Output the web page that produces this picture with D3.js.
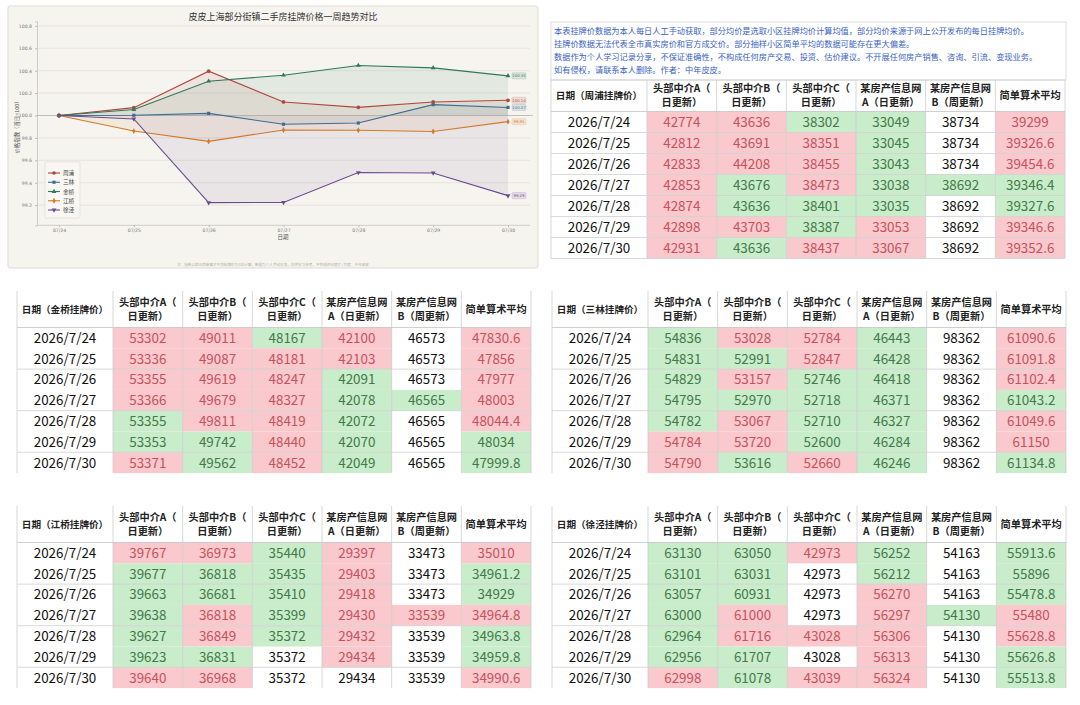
<!DOCTYPE html>
<html>
<head>
<meta charset="utf-8">
<script src="https://cdn.jsdelivr.net/npm/d3@7"></script>
<style>
  body { margin: 0; background: #fff; }
  text { font-family: "Noto Sans CJK SC", "Noto Sans", sans-serif; }
</style>
</head>
<body>
<div id="page"></div>
<script>
// ---- data ----
var dates = ["2026/7/24", "2026/7/25", "2026/7/26", "2026/7/27", "2026/7/28", "2026/7/29", "2026/7/30"];
var tickLabels = ["07/24", "07/25", "07/26", "07/27", "07/28", "07/29", "07/30"];
var areaNames = ["周浦", "三林", "金桥", "江桥", "徐泾"];
var colHeaders = [["头部中介A（", "日更新）"], ["头部中介B（", "日更新）"], ["头部中介C（", "日更新）"],
                  ["某房产信息网", "A（日更新）"], ["某房产信息网", "B（周更新）"], ["简单算术平均"]];

// index (first day = 100)
var idxZhoupu = [100, 100.070, 100.396, 100.121, 100.073, 100.121, 100.136];
var idxSanlin = [100, 100.002, 100.019, 99.922, 99.933, 100.097, 100.072];
var idxJinqiao = [100, 100.053, 100.306, 100.360, 100.447, 100.425, 100.354];
var idxJiangqiao = [100, 99.861, 99.769, 99.871, 99.868, 99.857, 99.945];
var idxXujing = [100, 99.969, 99.222, 99.224, 99.491, 99.487, 99.285];
var endLabels = ["100.14", "100.07", "100.35", "99.95", "99.29"];

// 周浦
var zpA = [42774, 42812, 42833, 42853, 42874, 42898, 42931];
var zpB = [43636, 43691, 44208, 43676, 43636, 43703, 43636];
var zpC = [38302, 38351, 38455, 38473, 38401, 38387, 38437];
var zpNetA = [33049, 33045, 33043, 33038, 33035, 33053, 33067];
var zpNetB = [38734, 38734, 38734, 38692, 38692, 38692, 38692];
var zpAvg = ["39299", "39326.6", "39454.6", "39346.4", "39327.6", "39346.6", "39352.6"];
var zpMarks = ["rrgg-r", "rrrg-r", "rrrg-r", "rgrggg", "rggg-g", "rrgr-r", "rgrr-r"];

// 金桥
var jqA = [53302, 53336, 53355, 53366, 53355, 53353, 53371];
var jqB = [49011, 49087, 49619, 49679, 49811, 49742, 49562];
var jqC = [48167, 48181, 48247, 48327, 48419, 48440, 48452];
var jqNetA = [42100, 42103, 42091, 42078, 42072, 42070, 42049];
var jqNetB = [46573, 46573, 46573, 46565, 46565, 46565, 46565];
var jqAvg = ["47830.6", "47856", "47977", "48003", "48044.4", "48034", "47999.8"];
var jqMarks = ["rrgr-r", "rrrr-r", "rrrg-r", "rrrggr", "grrg-r", "ggrg-g", "rgrg-g"];

// 三林
var slA = [54836, 54831, 54829, 54795, 54782, 54784, 54790];
var slB = [53028, 52991, 53157, 52970, 53067, 53720, 53616];
var slC = [52784, 52847, 52746, 52718, 52710, 52600, 52660];
var slNetA = [46443, 46428, 46418, 46371, 46327, 46284, 46246];
var slNetB = [98362, 98362, 98362, 98362, 98362, 98362, 98362];
var slAvg = ["61090.6", "61091.8", "61102.4", "61043.2", "61049.6", "61150", "61134.8"];
var slMarks = ["grrg-r", "ggrg-r", "grgg-r", "gggg-g", "grgg-r", "rrgg-r", "rgrg-g"];

// 江桥
var jgA = [39767, 39677, 39663, 39638, 39627, 39623, 39640];
var jgB = [36973, 36818, 36681, 36818, 36849, 36831, 36968];
var jgC = [35440, 35435, 35410, 35399, 35372, 35372, 35372];
var jgNetA = [29397, 29403, 29418, 29430, 29432, 29434, 29434];
var jgNetB = [33473, 33473, 33473, 33539, 33539, 33539, 33539];
var jgAvg = ["35010", "34961.2", "34929", "34964.8", "34963.8", "34959.8", "34990.6"];
var jgMarks = ["rrgr-r", "gggr-g", "gggr-g", "grgrrr", "grgr-g", "gg-r-g", "rr---r"];

// 徐泾
var xjA = [63130, 63101, 63057, 63000, 62964, 62956, 62998];
var xjB = [63050, 63031, 60931, 61000, 61716, 61707, 61078];
var xjC = [42973, 42973, 42973, 42973, 43028, 43028, 43039];
var xjNetA = [56252, 56212, 56270, 56297, 56306, 56313, 56324];
var xjNetB = [54163, 54163, 54163, 54130, 54130, 54130, 54130];
var xjAvg = ["55913.6", "55896", "55478.8", "55480", "55628.8", "55626.8", "55513.8"];
var xjMarks = ["ggrg-g", "gg-g-g", "gg-r-g", "gr-rgr", "grrr-r", "gg-r-g", "rgrr-g"];

var noteLines = [
  "本表挂牌价数据为本人每日人工手动获取，部分均价是选取小区挂牌均价计算均值，部分均价来源于网上公开发布的每日挂牌均价。",
  "挂牌价数据无法代表全市真实房价和官方成交价。部分抽样小区简单平均的数据可能存在更大偏差。",
  "数据作为个人学习记录分享，不保证准确性，不构成任何房产交易、投资、估价建议。不开展任何房产销售、咨询、引流、变现业务。",
  "如有侵权，请联系本人删除。作者：中年皮皮。"
];

var seriesColors = ["#b2463d", "#3e6c92", "#2f7a57", "#d27a2b", "#6b4b91"];
var markColors = { r: { bg: "#f9c9cd", fg: "#c8525c" }, g: { bg: "#c9ecca", fg: "#427a49" } };

var svg = d3.select("#page").append("svg")
    .attr("width", 1080)
    .attr("height", 705);

// ---- line chart ----
var chart = svg.append("g");

chart.append("rect")
    .attr("x", 8).attr("y", 6)
    .attr("width", 530).attr("height", 262)
    .attr("rx", 2)
    .attr("fill", "#f6f4ef")
    .attr("stroke", "#dedbd3");

var x = d3.scalePoint().domain(tickLabels).range([59, 508]);
var y = d3.scaleLinear().domain([99.02, 100.84]).range([225.3, 21.4]);

var yTicks = d3.range(99.2, 100.81, 0.2);

chart.append("g")
    .selectAll("line")
    .data(yTicks)
    .join("line")
    .attr("x1", 37).attr("x2", 530)
    .attr("y1", function (d) { return y(d); })
    .attr("y2", function (d) { return y(d); })
    .attr("stroke", "#e3e0d9")
    .attr("stroke-width", 0.8);

// y axis
var yAxis = chart.append("g")
    .attr("transform", "translate(37,0)")
    .call(d3.axisLeft(y).tickValues(yTicks).tickFormat(d3.format(".1f")).tickSize(2));
yAxis.select(".domain").attr("stroke", "#cfccc4");
yAxis.selectAll(".tick line").attr("stroke", "#bbb");
yAxis.selectAll("text").attr("font-size", 4.6).attr("fill", "#777")
    .style("font-family", "'DejaVu Sans', sans-serif");

// x axis
var xAxis = chart.append("g")
    .attr("transform", "translate(0,225.3)")
    .call(d3.axisBottom(x).tickSize(2).tickSizeOuter(0));
xAxis.select(".domain").attr("d", "M37,0H530").attr("stroke", "#cfccc4");
xAxis.selectAll(".tick line").attr("stroke", "#bbb");
xAxis.selectAll("text").attr("font-size", 4.6).attr("fill", "#777").attr("dy", "0.4em")
    .style("font-family", "'DejaVu Sans', sans-serif");

chart.append("text")
    .attr("x", 283).attr("y", 239)
    .attr("text-anchor", "middle")
    .attr("font-size", 5.5).attr("fill", "#555")
    .text("日期");

chart.append("text")
    .attr("transform", "translate(19,126) rotate(-90)")
    .attr("text-anchor", "middle")
    .attr("font-size", 5.4).attr("fill", "#555")
    .text("价格指数（首日=100）");

chart.append("text")
    .attr("x", 283).attr("y", 20)
    .attr("text-anchor", "middle")
    .attr("font-size", 9).attr("fill", "#333")
    .text("皮皮上海部分街镇二手房挂牌价格一周趋势对比");

chart.append("text")
    .attr("x", 273).attr("y", 266)
    .attr("text-anchor", "middle")
    .attr("font-size", 3.6).attr("fill", "#b3b0a8")
    .text("注：指数以首日简单算术平均挂牌价为100计算，数据为个人手动记录，仅供学习参考，不构成任何建议 | 作者：中年皮皮");

var indexSeries = [idxZhoupu, idxSanlin, idxJinqiao, idxJiangqiao, idxXujing];
var symbols = [d3.symbolCircle, d3.symbolSquare, d3.symbolTriangle, d3.symbolDiamond, d3.symbolTriangle];

var area = d3.area()
    .x(function (d, i) { return x(tickLabels[i]); })
    .y0(y(100))
    .y1(function (d) { return y(d); });

var line = d3.line()
    .x(function (d, i) { return x(tickLabels[i]); })
    .y(function (d) { return y(d); });

chart.append("g")
    .selectAll("path")
    .data(indexSeries)
    .join("path")
    .attr("d", area)
    .attr("fill", function (d, i) { return seriesColors[i]; })
    .attr("fill-opacity", 0.09);

// baseline 100
chart.append("line")
    .attr("x1", 37).attr("x2", 533)
    .attr("y1", y(100)).attr("y2", y(100))
    .attr("stroke", "#9a978f")
    .attr("stroke-width", 0.7)
    .attr("stroke-opacity", 0.7);

indexSeries.forEach(function (vals, s) {
    var g = chart.append("g");
    g.append("path")
        .attr("d", line(vals))
        .attr("fill", "none")
        .attr("stroke", seriesColors[s])
        .attr("stroke-width", 1.1);
    g.selectAll(".pt")
        .data(vals)
        .join("path")
        .attr("class", "pt")
        .attr("transform", function (d, i) {
            return "translate(" + x(tickLabels[i]) + "," + y(d) + ")" + (s === 4 ? " rotate(180)" : "");
        })
        .attr("d", d3.symbol().type(symbols[s]).size(s === 0 ? 11 : 10))
        .attr("fill", seriesColors[s]);

    // end label
    var last = vals[vals.length - 1];
    var lx = x(tickLabels[6]) + 4, ly = y(last);
    g.append("rect")
        .attr("x", lx).attr("y", ly - 3)
        .attr("width", 14).attr("height", 6)
        .attr("rx", 1)
        .attr("fill", seriesColors[s]).attr("fill-opacity", 0.12)
        .attr("stroke", seriesColors[s]).attr("stroke-opacity", 0.45)
        .attr("stroke-width", 0.4);
    g.append("text")
        .attr("x", lx + 7).attr("y", ly + 1.4)
        .attr("text-anchor", "middle")
        .attr("font-size", 3.8)
        .attr("fill", seriesColors[s])
        .style("font-family", "'DejaVu Sans', sans-serif")
        .text(endLabels[s]);
});

// legend
var legend = chart.append("g");
legend.append("rect")
    .attr("x", 45).attr("y", 162)
    .attr("width", 35).attr("height", 56)
    .attr("rx", 1.5)
    .attr("fill", "#f8f7f3")
    .attr("stroke", "#dcd9d2")
    .attr("stroke-width", 0.6);
var legendY = d3.scalePoint().domain(areaNames).range([173, 210]);
areaNames.forEach(function (name, s) {
    var ly = legendY(name);
    legend.append("line")
        .attr("x1", 48).attr("x2", 60)
        .attr("y1", ly).attr("y2", ly)
        .attr("stroke", seriesColors[s]).attr("stroke-width", 1.1);
    legend.append("path")
        .attr("transform", "translate(54," + ly + ")" + (s === 4 ? " rotate(180)" : ""))
        .attr("d", d3.symbol().type(symbols[s]).size(10))
        .attr("fill", seriesColors[s]);
    legend.append("text")
        .attr("x", 63).attr("y", ly + 2)
        .attr("font-size", 5.6).attr("fill", "#444")
        .text(name);
});

// ---- note box ----
var note = svg.append("g");
note.append("rect")
    .attr("x", 551).attr("y", 22)
    .attr("width", 515).attr("height", 58)
    .attr("fill", "#fff")
    .attr("stroke", "#d4d4d4")
    .attr("stroke-width", 0.8);
note.selectAll("text")
    .data(noteLines)
    .join("text")
    .attr("x", 554)
    .attr("y", function (d, i) { return 34 + i * 13; })
    .attr("font-size", 8.2)
    .attr("fill", "#3a61c4")
    .text(function (d) { return d; });

// ---- tables ----
function drawTable(cfg) {
    var g = svg.append("g");
    var dateW = 96, width = 514;
    var rowsTop = cfg.y + cfg.headerH;
    var cols = d3.scaleBand().domain(d3.range(6)).range([cfg.x + dateW, cfg.x + width]);
    var rows = d3.scaleBand().domain(dates).range([rowsTop, rowsTop + cfg.rowH * dates.length]);
    var bottom = rows.range()[1];
    var values = [cfg.a, cfg.b, cfg.c, cfg.netA, cfg.netB, cfg.avg];

    // cell backgrounds
    dates.forEach(function (d, r) {
        for (var c = 0; c < 6; c++) {
            var m = cfg.marks[r][c];
            if (markColors[m]) {
                g.append("rect")
                    .attr("x", cols(c)).attr("y", rows(d))
                    .attr("width", cols.bandwidth()).attr("height", rows.bandwidth())
                    .attr("fill", markColors[m].bg);
            }
        }
    });

    // grid lines
    var vx = [cfg.x, cfg.x + dateW].concat(d3.range(1, 7).map(function (c) { return c < 6 ? cols(c) : cfg.x + width; }));
    g.selectAll(".vl")
        .data(vx)
        .join("line")
        .attr("x1", function (d) { return d; }).attr("x2", function (d) { return d; })
        .attr("y1", cfg.y).attr("y2", bottom)
        .attr("stroke", "#cdcdcd").attr("stroke-width", 0.8);

    var hRows = cfg.fullGrid ? d3.range(0, 8) : [0, 2, 4, 6];
    g.selectAll(".hl")
        .data(hRows)
        .join("line")
        .attr("x1", cfg.x).attr("x2", cfg.x + width)
        .attr("y1", function (r) { return rowsTop + r * cfg.rowH; })
        .attr("y2", function (r) { return rowsTop + r * cfg.rowH; })
        .attr("stroke", function (r) { return r === 0 ? "#c4c4c4" : "#cfcfcf"; })
        .attr("stroke-width", 0.8);
    if (cfg.fullGrid) {
        g.append("line")
            .attr("x1", cfg.x).attr("x2", cfg.x + width)
            .attr("y1", cfg.y).attr("y2", cfg.y)
            .attr("stroke", "#cdcdcd").attr("stroke-width", 0.8);
    }

    // header
    var hMid = cfg.y + cfg.headerH / 2;
    g.append("text")
        .attr("x", cfg.x + dateW / 2).attr("y", hMid + 3.5)
        .attr("text-anchor", "middle")
        .attr("font-size", 9.6).attr("font-weight", "bold").attr("fill", "#222")
        .text("日期（" + cfg.name + "挂牌价）");
    colHeaders.forEach(function (lines, c) {
        var t = g.append("text")
            .attr("text-anchor", "middle")
            .attr("font-size", 10.2).attr("font-weight", "bold").attr("fill", "#222");
        lines.forEach(function (s, k) {
            t.append("tspan")
                .attr("x", cols(c) + cols.bandwidth() / 2)
                .attr("y", lines.length === 1 ? hMid + 3.6 : hMid - 3.5 + k * 14)
                .text(s);
        });
    });

    // body
    dates.forEach(function (d, r) {
        var cy = rows(d) + rows.bandwidth() / 2 + 4.8;
        g.append("text")
            .attr("x", cfg.x + dateW / 2).attr("y", cy)
            .attr("text-anchor", "middle")
            .attr("font-size", 13.4).attr("fill", "#111")
            .text(d);
        for (var c = 0; c < 6; c++) {
            var m = cfg.marks[r][c];
            g.append("text")
                .attr("x", cols(c) + cols.bandwidth() / 2).attr("y", cy)
                .attr("text-anchor", "middle")
                .attr("font-size", 13.4)
                .attr("fill", markColors[m] ? markColors[m].fg : "#111")
                .text(values[c][r]);
        }
    });
}

drawTable({ name: "周浦", x: 551, y: 80, headerH: 31.5, rowH: 21, fullGrid: true,
    a: zpA, b: zpB, c: zpC, netA: zpNetA, netB: zpNetB, avg: zpAvg, marks: zpMarks });
drawTable({ name: "金桥", x: 17, y: 291, headerH: 36.5, rowH: 20.8, fullGrid: false,
    a: jqA, b: jqB, c: jqC, netA: jqNetA, netB: jqNetB, avg: jqAvg, marks: jqMarks });
drawTable({ name: "三林", x: 552, y: 291, headerH: 36.5, rowH: 20.8, fullGrid: false,
    a: slA, b: slB, c: slC, netA: slNetA, netB: slNetB, avg: slAvg, marks: slMarks });
drawTable({ name: "江桥", x: 17, y: 506, headerH: 36.5, rowH: 20.8, fullGrid: false,
    a: jgA, b: jgB, c: jgC, netA: jgNetA, netB: jgNetB, avg: jgAvg, marks: jgMarks });
drawTable({ name: "徐泾", x: 552, y: 506, headerH: 36.5, rowH: 20.8, fullGrid: false,
    a: xjA, b: xjB, c: xjC, netA: xjNetA, netB: xjNetB, avg: xjAvg, marks: xjMarks });
</script>
</body>
</html>
